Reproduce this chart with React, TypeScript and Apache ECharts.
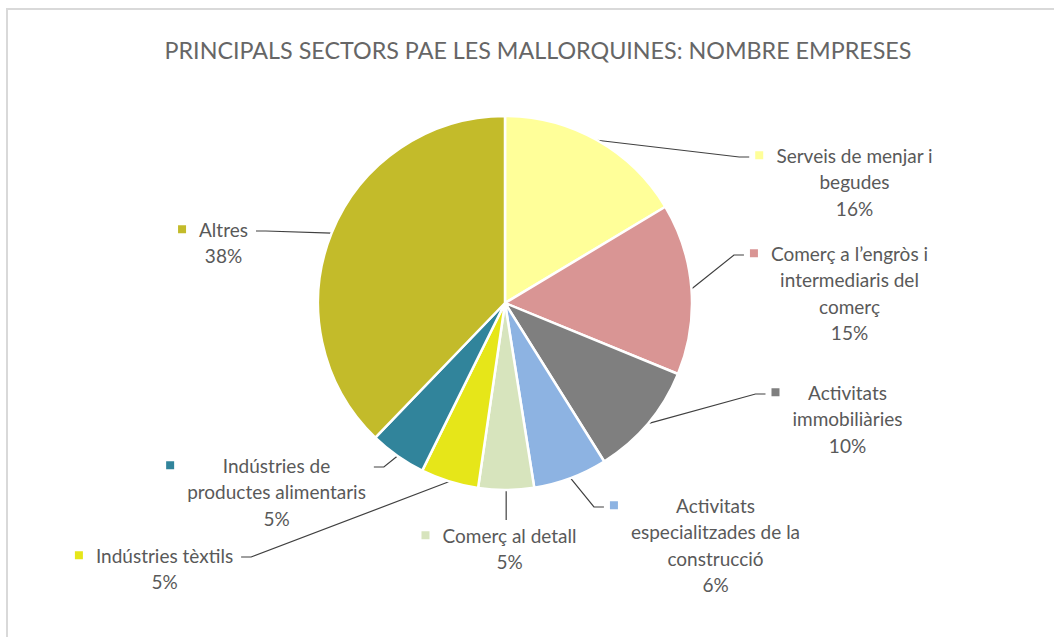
import React, { useEffect, useRef } from "react";
import * as echarts from "echarts";

const TITLE = "PRINCIPALS SECTORS PAE LES MALLORQUINES: NOMBRE EMPRESES";

const categories = [
  "Serveis de menjar i\nbegudes",
  "Comerç a l’engròs i\nintermediaris del\ncomerç",
  "Activitats\nimmobiliàries",
  "Activitats\nespecialitzades de la\nconstrucció",
  "Comerç al detall",
  "Indústries tèxtils",
  "Indústries de\nproductes alimentaris",
  "Altres",
];

const values = [16.4, 14.8, 9.9, 6.4, 4.8, 5.0, 4.9, 37.8];

const colors = [
  "#FFFF99",
  "#D99594",
  "#7F7F7F",
  "#8DB3E2",
  "#D7E4BD",
  "#E6E619",
  "#31849B",
  "#C3BB2A",
];

// label block positions (center x, top y)
const labelPos: [number, number][] = [
  [844, 142],
  [839, 240],
  [837, 379],
  [705, 492],
  [499, 522],
  [154, 542],
  [266, 452],
  [213, 216],
];

export default function App() {
  const ref = useRef<HTMLDivElement>(null);
  useEffect(() => {
    if (!ref.current) return;
    const chart = echarts.init(ref.current, undefined, { renderer: "svg" });
    const rich: any = {
      t: { fontSize: 19, lineHeight: 26.5, color: "#595959", fontFamily: "Lato" },
      g: { width: 13, align: "left" },
      s: { width: 21, align: "left" },
    };
    colors.forEach((c, i) => {
      rich["m" + i] = { width: 8, height: 8, backgroundColor: c, align: "left" };
    });
    chart.setOption({
      animation: false,
      backgroundColor: "#ffffff",
      title: {
        text: TITLE,
        left: 533,
        top: 33,
        textAlign: "center",
        textStyle: { fontFamily: "Lato", fontSize: 23.3, fontWeight: "normal", color: "#666666" },
      },
      graphic: [
        {
          type: "rect",
          shape: { x: 7, y: 9, width: 1100, height: 700 },
          style: { fill: "none", stroke: "#D9D9D9", lineWidth: 2 },
          silent: true,
        },
      ],
      series: [
        {
          type: "pie",
          center: [505, 303],
          radius: 187,
          startAngle: 90,
          clockwise: true,
          itemStyle: { borderColor: "#ffffff", borderWidth: 2.5 },
          label: {
            show: true,
            position: "outside",
            align: "center",
            rich,
            formatter: (p: any) => {
              const lines = String(p.name).split("\n");
              const pct = Math.round(p.percent) + "%";
              const out = [`{m${p.dataIndex}|}{g|}{t|${lines[0]}}`];
              for (let k = 1; k < lines.length; k++) out.push(`{s|}{t|${lines[k]}}`);
              out.push(`{s|}{t|${pct}}`);
              return out.join("\n");
            },
          },
          labelLine: {
            show: true,
            length: 15,
            length2: 10,
            lineStyle: { color: "#404040", width: 1.2 },
          },
          labelLayout: (params: any) => {
            const pos = labelPos[params.dataIndex];
            const res: any = { x: pos[0], y: pos[1], align: "center", verticalAlign: "top" };
            const pts = params.labelLinePoints;
            if (pts && pts.length && params.labelRect) {
              const w = params.labelRect.width;
              const a = pts[0];
              const left = pos[0] - w / 2;
              const right = pos[0] + w / 2;
              const yLine = pos[1] + 15;
              if (a[0] > left + 10 && a[0] < right - 10) {
                res.labelLinePoints = [a, [a[0], pos[1] - 2], [a[0], pos[1] - 2]];
              } else if (left > a[0]) {
                const end = [left - 6, yLine];
                res.labelLinePoints = [a, [end[0] - 10, end[1]], end];
              } else {
                const end = [right + 8, yLine];
                res.labelLinePoints = [a, [end[0] + 10, end[1]], end];
              }
            }
            return res;
          },
          data: categories.map((name, i) => ({
            name,
            value: values[i],
            itemStyle: { color: colors[i] },
          })),
        },
      ],
    });
    return () => chart.dispose();
  }, []);
  return (
    <div
      ref={ref}
      style={{ position: "fixed", left: 0, top: 0, width: 1054, height: 637 }}
    />
  );
}
